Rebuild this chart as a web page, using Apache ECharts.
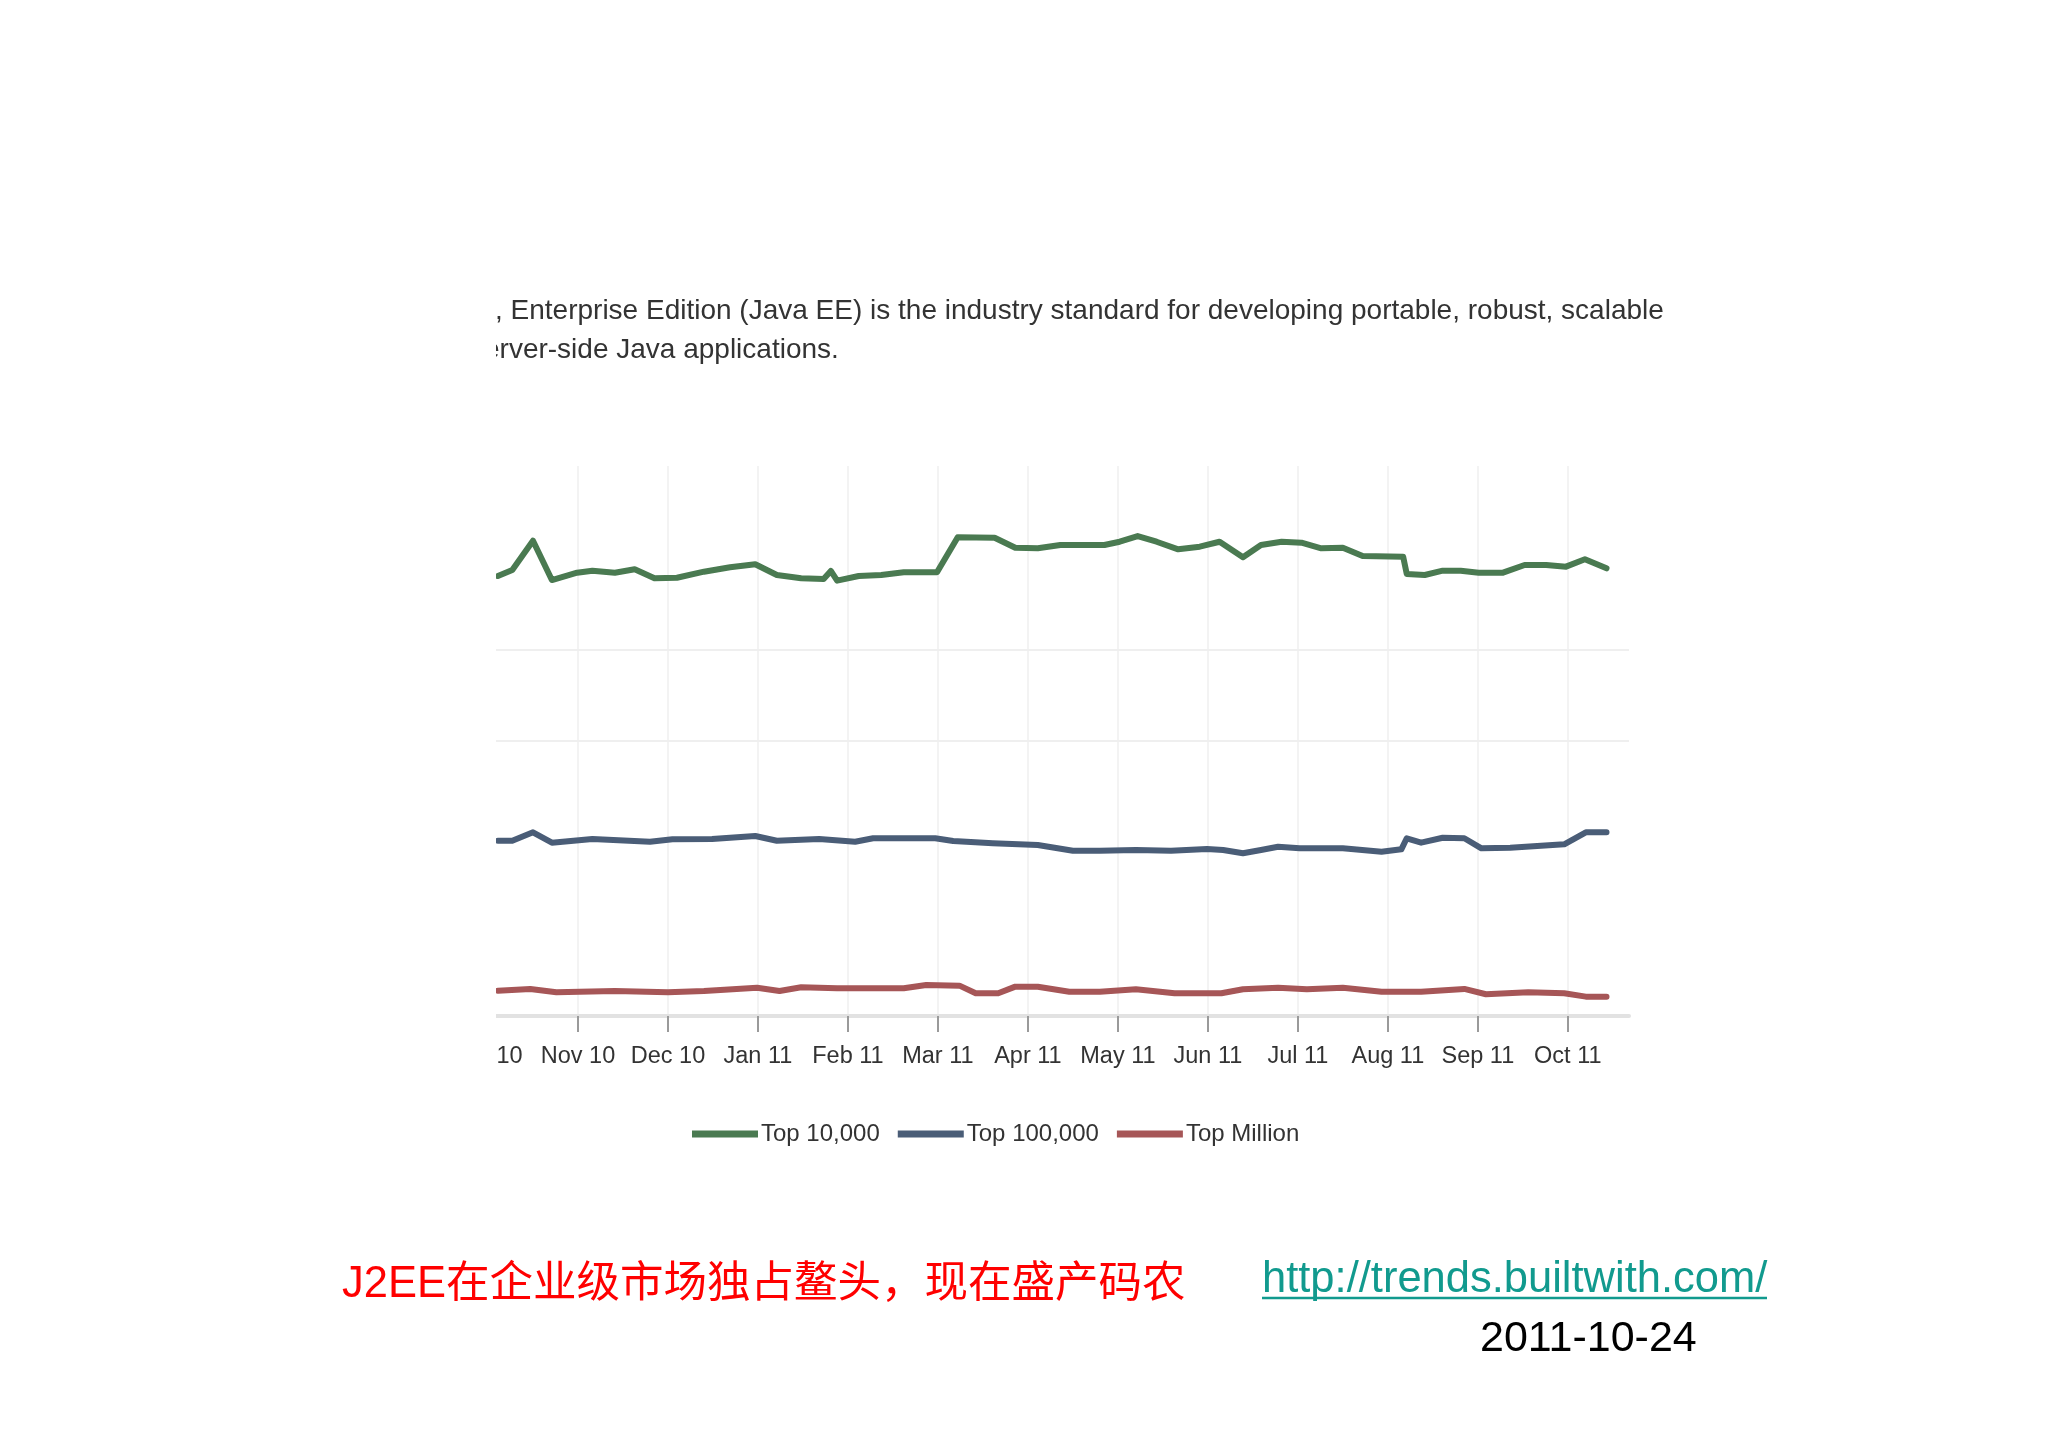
<!DOCTYPE html>
<html>
<head>
<meta charset="utf-8">
<script src="https://cdn.jsdelivr.net/npm/echarts@6/dist/echarts.min.js"></script>
<style>
html,body{margin:0;padding:0;background:#fff;}
#chart{width:2048px;height:1448px;}
</style>
</head>
<body>
<div id="chart"></div>
<script>
// x positions are in months since Oct 2010 (0 = Oct 10, 12 = Oct 11)
const monthLabels = ['Oct 10','Nov 10','Dec 10','Jan 11','Feb 11','Mar 11','Apr 11','May 11','Jun 11','Jul 11','Aug 11','Sep 11','Oct 11'];
const seriesNames = ['Top 10,000','Top 100,000','Top Million'];

const top10kX = [0.11,0.27,0.50,0.71,0.99,1.16,1.41,1.63,1.85,2.10,2.40,2.69,2.97,3.21,3.48,3.73,3.81,3.88,4.12,4.37,4.62,4.99,5.22,5.63,5.86,6.11,6.36,6.85,7.02,7.22,7.43,7.67,7.91,8.13,8.39,8.59,8.82,9.04,9.26,9.50,9.72,10.17,10.21,10.41,10.61,10.81,11.01,11.28,11.52,11.76,11.98,12.19,12.43];
const top10kY = [480,486.5,518.5,475.6,483.6,485.8,483.6,487.3,477.5,478.1,484.7,489.5,492.8,481.1,477.5,476.7,485.5,474.9,480,481.1,484,484,522.2,521.8,510.9,510.2,513.8,513.8,517.4,523.6,517.4,509.1,512,517.4,500.4,513.8,517.4,516.3,510.2,510.9,501.8,501.1,482.2,481.1,485.8,485.8,483.6,483.6,492,492,490.2,498.2,488.4];

const top100kX = [0.11,0.27,0.50,0.71,1.16,1.80,2.05,2.49,2.97,3.21,3.68,4.08,4.28,4.97,5.17,5.61,6.11,6.50,6.80,7.20,7.59,7.99,8.17,8.39,8.59,8.78,9.02,9.50,9.93,10.15,10.21,10.37,10.61,10.85,11.04,11.36,11.96,12.20,12.43];
const top100kY = [191.2,191.2,200.4,189.1,193.1,190.1,192.8,193.1,196.4,191.2,193.1,190.1,193.9,193.9,190.9,188.4,186.5,180.3,180.3,181.1,180.3,182.2,181.1,177.5,181.1,184.7,182.9,182.9,179.2,181.8,193.9,189.1,194.5,193.9,182.9,183.6,187.3,200.4,200.4];

const topMillionX = [0.11,0.47,0.76,1.41,2.00,2.40,2.99,3.24,3.48,3.88,4.62,4.87,5.24,5.42,5.67,5.86,6.11,6.46,6.80,7.20,7.63,8.15,8.39,8.78,9.10,9.50,9.93,10.37,10.85,11.09,11.56,11.96,12.20,12.43];
const topMillionY = [27.6,29.5,25.9,27.3,25.9,27.3,30.9,27.3,31.3,30.2,30.2,33.8,33.1,24.8,24.8,32,32,26.5,26.5,29.1,24.8,24.8,29.1,30.9,29.1,30.9,26.5,26.5,29.5,23.7,25.9,24.8,21.1,21.1];

const gridValues = [300, 400];
const colors = ['#4a7a51', '#4a5d77', '#a65657'];

function zip(xs, ys){ return xs.map((x,i)=>[x, ys[i]]); }
const tickValues = monthLabels.map((_,i)=>i);

const chart = echarts.init(document.getElementById('chart'), null, {renderer:'canvas'});
const lineStyleBase = {width:6, cap:'round', join:'round'};

chart.setOption({
  animation:false,
  backgroundColor:'#ffffff',
  color: colors,
  grid:{left:488, right:419, top:466, bottom:432, containLabel:false, outerBoundsMode:'none'},
  xAxis:{
    type:'value', min:0, max:12.68, interval:1,
    axisLine:{show:true, lineStyle:{color:'#e2e2e2', width:4}},
    axisTick:{show:true, length:16, lineStyle:{color:'#9a9a9a', width:2}, customValues:tickValues},
    axisLabel:{show:true, margin:29, color:'#333', fontSize:23.5, fontFamily:'Liberation Sans',
      customValues:tickValues,
      formatter:function(v){ const i=Math.round(v); return Math.abs(v-i)<1e-6 && monthLabels[i] ? monthLabels[i] : ''; }},
    splitLine:{show:true, lineStyle:{color:'#f3f3f3', width:2}}
  },
  yAxis:{
    type:'value', min:0, max:600, interval:100,
    axisLine:{show:false}, axisTick:{show:false}, axisLabel:{show:false},
    splitLine:{show:false}
  },
  legend:{
    left:692, top:1122, padding:0, icon:'rect', itemWidth:66, itemHeight:7, itemGap:18,
    textStyle:{fontSize:24, color:'#333', fontFamily:'Liberation Sans', padding:[0,0,0,-2]},
    data:seriesNames
  },
  series:[
    {name:seriesNames[0], type:'line', symbol:'none', showSymbol:false, z:3,
     lineStyle:Object.assign({color:colors[0]}, lineStyleBase),
     data:zip(top10kX, top10kY),
     markLine:{silent:true, symbol:['none','none'], label:{show:false}, animation:false,
       lineStyle:{color:'#efefef', width:2, type:'solid'},
       emphasis:{disabled:true},
       data:gridValues.map(v=>({yAxis:v}))}},
    {name:seriesNames[1], type:'line', symbol:'none', showSymbol:false, z:3,
     lineStyle:Object.assign({color:colors[1]}, lineStyleBase),
     data:zip(top100kX, top100kY)},
    {name:seriesNames[2], type:'line', symbol:'none', showSymbol:false, z:3,
     lineStyle:Object.assign({color:colors[2]}, lineStyleBase),
     data:zip(topMillionX, topMillionY)}
  ],
  graphic:[
    {type:'text', x:495, y:311, z:10, style:{text:', Enterprise Edition (Java EE) is the industry standard for developing portable, robust, scalable', font:'28px "Liberation Sans"', fill:'#333', verticalAlign:'middle', align:'left'}},
    {type:'text', x:484, y:350, z:10, style:{text:'erver-side Java applications.', font:'28px "Liberation Sans"', fill:'#333', verticalAlign:'middle', align:'left'}},
    {type:'rect', z:100, shape:{x:0, y:270, width:496, height:820}, style:{fill:'#ffffff'}},
    {type:'text', x:342, y:1285, z:10, style:{text:'J2EE在企业级市场独占鳌头，现在盛产码农', font:'43.5px "Liberation Sans", "Noto Sans CJK SC"', fill:'#ff0000', verticalAlign:'middle', align:'left'}},
    {type:'text', x:1262, y:1280, z:10, style:{text:'http://trends.builtwith.com/', font:'43.5px "Liberation Sans"', fill:'#119a8e', verticalAlign:'middle', align:'left'}},
    {type:'line', z:10, shape:{x1:1262, y1:1298, x2:1767, y2:1298}, style:{stroke:'#119a8e', lineWidth:2.5}},
    {type:'text', x:1480, y:1339, z:10, style:{text:'2011-10-24', font:'43px "Liberation Sans"', fill:'#000', verticalAlign:'middle', align:'left'}}
  ]
});
</script>
</body>
</html>
